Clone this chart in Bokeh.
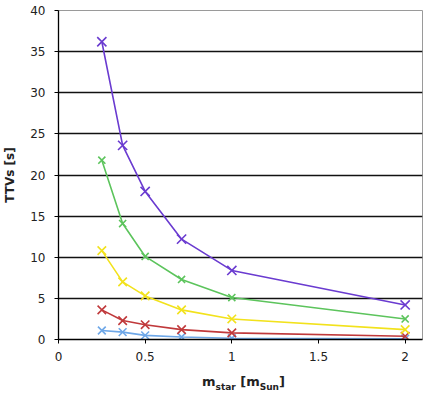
from bokeh.plotting import figure
from bokeh.models import Range1d, FixedTicker, ColumnDataSource, Div
from bokeh.layouts import column
from bokeh.embed import file_html
from bokeh.resources import INLINE

mass = [0.25, 0.37, 0.5, 0.71, 1.0, 2.0]
ttv_purple = [36.2, 23.6, 18.0, 12.2, 8.4, 4.2]
ttv_green = [21.8, 14.1, 10.1, 7.3, 5.1, 2.5]
ttv_yellow = [10.8, 7.0, 5.3, 3.6, 2.5, 1.2]
ttv_red = [3.6, 2.3, 1.8, 1.2, 0.8, 0.4]
ttv_blue = [1.1, 0.9, 0.5, 0.3, 0.15, 0.1]

series = [
    (ttv_blue, "#6fa8e8", 11),
    (ttv_red, "#c0393b", 12),
    (ttv_yellow, "#f2e21c", 12),
    (ttv_green, "#5cc45c", 10),
    (ttv_purple, "#6a3bd0", 13),
]

x_ticks = [0, 0.5, 1, 1.5, 2]
y_ticks = [0, 5, 10, 15, 20, 25, 30, 35, 40]

p = figure(width=436, height=366,
           x_range=Range1d(0, 2.1), y_range=Range1d(0, 40),
           output_backend="svg", toolbar_location=None,
           min_border_left=58, min_border_right=14, min_border_top=10, min_border_bottom=27)

p.background_fill_color = "white"
p.border_fill_color = "white"
p.outline_line_color = "#9a9a9a"

p.xgrid.grid_line_color = None
p.ygrid.grid_line_color = "#111111"
p.ygrid.grid_line_width = 1.3

for ax in (p.xaxis, p.yaxis):
    ax.axis_line_color = "black"
    ax.axis_line_width = 1.3
    ax.major_tick_line_color = "black"
    ax.major_tick_in = 0
    ax.major_tick_out = 4
    ax.minor_tick_line_color = None
    ax.major_label_text_font = "DejaVu Sans"
    ax.major_label_text_font_size = "12px"
    ax.major_label_text_color = "#222222"

p.xaxis.ticker = FixedTicker(ticks=x_ticks)
p.yaxis.ticker = FixedTicker(ticks=y_ticks)
p.xaxis.major_label_standoff = 8
p.yaxis.major_label_standoff = 9
p.xaxis.major_label_overrides = {0: "0", 0.5: "0.5", 1: "1", 1.5: "1.5", 2: "2"}

p.yaxis.axis_label = "TTVs [s]"
p.yaxis.axis_label_text_font = "DejaVu Sans"
p.yaxis.axis_label_text_font_style = "bold"
p.yaxis.axis_label_text_font_size = "12px"
p.yaxis.axis_label_text_color = "#222222"
p.yaxis.axis_label_standoff = 10

for vals, col, sz in series:
    src = ColumnDataSource(dict(x=mass, y=vals))
    p.line("x", "y", source=src, line_color=col, line_width=1.6)
    p.scatter("x", "y", source=src, marker="x", size=sz, line_color=col, line_width=1.6)

xlabel = Div(
    text='m<sub style="font-size:9px">star</sub> [m<sub style="font-size:9px">Sun</sub>]',
    width=436, height=31, margin=(0, 0, 0, 0),
    styles={"font-family": "DejaVu Sans", "font-weight": "bold", "font-size": "13px",
            "color": "#222222", "padding-left": "202px", "padding-top": "7px",
            "box-sizing": "border-box", "background": "white"},
)

layout = column(p, xlabel, spacing=0)
open("out.html", "w").write(file_html(layout, INLINE))
